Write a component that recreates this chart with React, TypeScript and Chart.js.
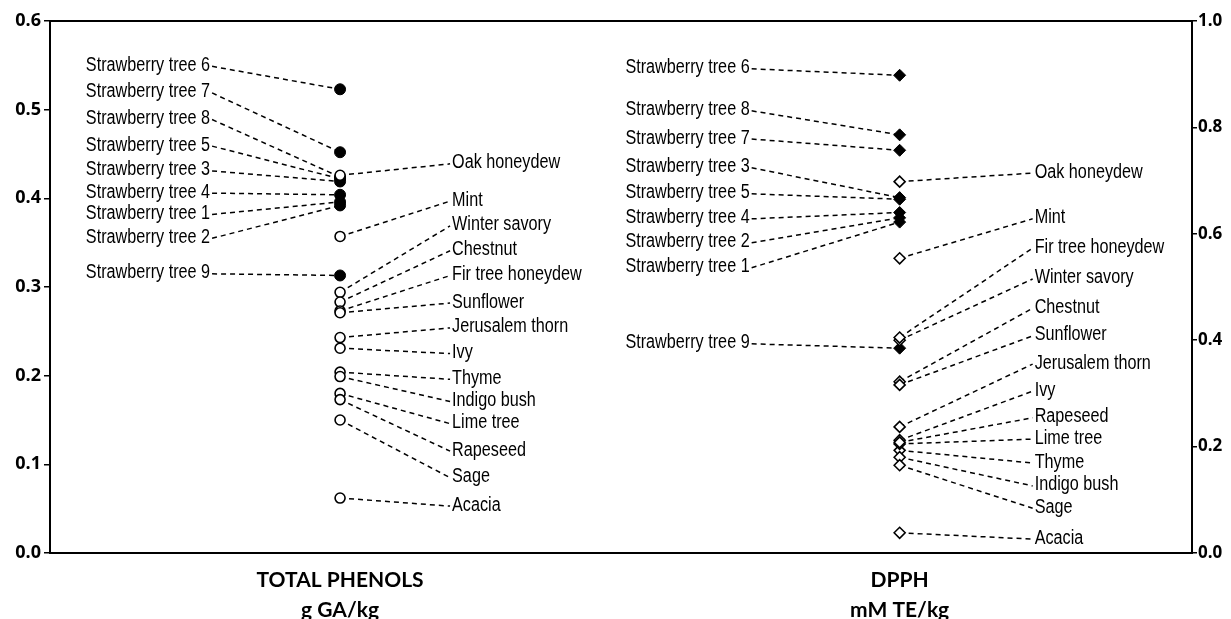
import React, { useEffect, useRef } from 'react';
import { Chart, registerables } from 'chart.js';

Chart.register(...registerables);

// ---------- data ----------
const strawberryNames = [
  'Strawberry tree 1', 'Strawberry tree 2', 'Strawberry tree 3', 'Strawberry tree 4',
  'Strawberry tree 5', 'Strawberry tree 6', 'Strawberry tree 7', 'Strawberry tree 8',
  'Strawberry tree 9',
];
// total phenols, g GA/kg
const strawberryPhenols = [0.396, 0.392, 0.419, 0.404, 0.422, 0.523, 0.452, 0.424, 0.313];
// DPPH, mM TE/kg
const strawberryDPPH = [0.622, 0.630, 0.668, 0.640, 0.665, 0.898, 0.757, 0.786, 0.385];

const honeyNames = [
  'Oak honeydew', 'Mint', 'Winter savory', 'Chestnut', 'Fir tree honeydew', 'Sunflower',
  'Jerusalem thorn', 'Ivy', 'Thyme', 'Indigo bush', 'Lime tree', 'Rapeseed', 'Sage', 'Acacia',
];
const honeyPhenols = [0.426, 0.357, 0.294, 0.283, 0.273, 0.271, 0.243, 0.231, 0.204, 0.199, 0.180, 0.173, 0.150, 0.062];
const honeyDPPH = [0.698, 0.554, 0.400, 0.322, 0.405, 0.316, 0.237, 0.212, 0.193, 0.180, 0.205, 0.208, 0.165, 0.038];

// label anchor levels (in each axis' own units)
const strawberryPhenolLabelAt = [0.383, 0.356, 0.432, 0.407, 0.460, 0.550, 0.520, 0.490, 0.316];
const strawberryDPPHLabelAt = [0.538, 0.585, 0.726, 0.630, 0.677, 0.912, 0.780, 0.833, 0.395];
const honeyPhenolLabelAt = [0.440, 0.398, 0.370, 0.342, 0.314, 0.283, 0.255, 0.226, 0.197, 0.172, 0.147, 0.116, 0.086, 0.054];
const honeyDPPHLabelAt = [0.716, 0.630, 0.517, 0.462, 0.575, 0.410, 0.357, 0.306, 0.171, 0.128, 0.216, 0.256, 0.086, 0.028];

const phenolTicks = [0, 0.1, 0.2, 0.3, 0.4, 0.5, 0.6];
const dpphTicks = [0, 0.2, 0.4, 0.6, 0.8, 1.0];
const columnTitles = [['TOTAL PHENOLS', 'g GA/kg'], ['DPPH', 'mM TE/kg']];

// ---------- layout ----------
const PHENOL_X = 0.254;
const DPPH_X = 0.744;
const LABEL_FONT = "20px 'Liberation Sans', Arial, sans-serif";
const NARROW = 0.81;
const AXIS_FONT = { family: "'Open Sans', Lato, sans-serif", size: 17, weight: 'bold' as const };

export default function App() {
  const ref = useRef<HTMLCanvasElement>(null);

  useEffect(() => {
    document.body.style.margin = '0';
    document.body.style.overflow = 'hidden';
    const canvas = ref.current;
    if (!canvas) return;

    const leaders = {
      id: 'leaders',
      beforeDatasetsDraw(chart: any) {
        const { ctx, scales } = chart;
        const xs = scales.x, y = scales.y, y2 = scales.y2;
        const px = xs.getPixelForValue(PHENOL_X);
        const dx = xs.getPixelForValue(DPPH_X);
        ctx.save();
        ctx.strokeStyle = '#000';
        ctx.lineWidth = 1.5;
        ctx.setLineDash([5, 4]);
        const line = (x1: number, y1: number, x2: number, y2v: number) => {
          ctx.beginPath();
          ctx.moveTo(x1, y1);
          ctx.lineTo(x2, y2v);
          ctx.stroke();
        };
        strawberryPhenols.forEach((v, i) => {
          line(px - 128, y.getPixelForValue(strawberryPhenolLabelAt[i]) + 1, px, y.getPixelForValue(v));
        });
        honeyPhenols.forEach((v, i) => {
          line(px, y.getPixelForValue(v), px + 110, y.getPixelForValue(honeyPhenolLabelAt[i]) + 1);
        });
        strawberryDPPH.forEach((v, i) => {
          line(dx - 148, y2.getPixelForValue(strawberryDPPHLabelAt[i]) + 1, dx, y2.getPixelForValue(v));
        });
        honeyDPPH.forEach((v, i) => {
          line(dx, y2.getPixelForValue(v), dx + 133, y2.getPixelForValue(honeyDPPHLabelAt[i]) + 1);
        });
        ctx.restore();
      },
      afterDraw(chart: any) {
        const { ctx, scales, chartArea } = chart;
        const xs = scales.x, y = scales.y, y2 = scales.y2;
        const px = xs.getPixelForValue(PHENOL_X);
        const dx = xs.getPixelForValue(DPPH_X);
        const text = (s: string, x: number, yy: number, align: CanvasTextAlign) => {
          ctx.save();
          ctx.translate(x, yy);
          ctx.scale(NARROW, 1);
          ctx.textAlign = align;
          ctx.fillText(s, 0, 0);
          ctx.restore();
        };
        ctx.save();
        ctx.fillStyle = '#000';
        ctx.font = LABEL_FONT;
        ctx.textBaseline = 'middle';
        strawberryNames.forEach((n, i) => {
          text(n, px - 130, y.getPixelForValue(strawberryPhenolLabelAt[i]), 'right');
          text(n, dx - 150, y2.getPixelForValue(strawberryDPPHLabelAt[i]), 'right');
        });
        honeyNames.forEach((n, i) => {
          text(n, px + 112, y.getPixelForValue(honeyPhenolLabelAt[i]), 'left');
          text(n, dx + 135, y2.getPixelForValue(honeyDPPHLabelAt[i]), 'left');
        });
        // frame
        ctx.strokeStyle = '#000';
        ctx.lineWidth = 2;
        ctx.setLineDash([]);
        ctx.strokeRect(chartArea.left, chartArea.top, chartArea.right - chartArea.left, chartArea.bottom - chartArea.top);
        ctx.restore();
      },
    };

    const chart = new Chart(canvas, {
      type: 'scatter',
      data: {
        datasets: [
          {
            label: 'Honey – total phenols',
            yAxisID: 'y',
            data: honeyPhenols.map((v) => ({ x: PHENOL_X, y: v })),
            pointStyle: 'circle',
            pointRadius: 5,
            pointBorderWidth: 1.6,
            backgroundColor: '#fff',
            borderColor: '#000',
          },
          {
            label: 'Honey – DPPH',
            yAxisID: 'y2',
            data: honeyDPPH.map((v) => ({ x: DPPH_X, y: v })),
            pointStyle: 'rectRot',
            pointRadius: 5.5,
            pointBorderWidth: 1.6,
            backgroundColor: '#fff',
            borderColor: '#000',
          },
          {
            label: 'Strawberry tree – total phenols',
            yAxisID: 'y',
            data: strawberryPhenols.map((v) => ({ x: PHENOL_X, y: v })),
            pointStyle: 'circle',
            pointRadius: 5.5,
            pointBorderWidth: 1,
            backgroundColor: '#000',
            borderColor: '#000',
          },
          {
            label: 'Strawberry tree – DPPH',
            yAxisID: 'y2',
            data: strawberryDPPH.map((v) => ({ x: DPPH_X, y: v })),
            pointStyle: 'rectRot',
            pointRadius: 6,
            pointBorderWidth: 1,
            backgroundColor: '#000',
            borderColor: '#000',
          },
        ],
      },
      options: {
        animation: false,
        responsive: true,
        maintainAspectRatio: false,
        layout: { padding: { top: 21, left: 0, right: 0, bottom: 0 } },
        plugins: { legend: { display: false }, tooltip: { enabled: false } },
        scales: {
          x: {
            type: 'linear',
            min: 0,
            max: 1,
            position: 'bottom',
            grid: { display: false },
            border: { display: false },
            afterBuildTicks: (s: any) => {
              s.ticks = [{ value: PHENOL_X }, { value: DPPH_X }];
            },
            afterFit: (s: any) => {
              s.height = 66;
            },
            ticks: {
              autoSkip: false,
              maxRotation: 0,
              padding: 5,
              color: '#000',
              font: { family: "Lato, 'Open Sans', sans-serif", size: 21, weight: 'bold', lineHeight: 1.4 },
              callback: (v: any) => (Math.abs(v - PHENOL_X) < 1e-6 ? columnTitles[0] : columnTitles[1]),
            },
          },
          y: {
            type: 'linear',
            position: 'left',
            min: 0,
            max: 0.6,
            afterBuildTicks: (s: any) => {
              s.ticks = phenolTicks.map((value) => ({ value }));
            },
            afterFit: (s: any) => {
              s.width = 50;
            },
            grid: { display: true, drawOnChartArea: false, drawTicks: true, tickLength: 6, color: '#000', lineWidth: 1.5 },
            border: { display: false },
            ticks: {
              padding: 3,
              color: '#000',
              font: { ...AXIS_FONT, size: 18 },
              callback: (v: any) => Number(v).toFixed(1),
            },
          },
          y2: {
            type: 'linear',
            position: 'right',
            min: 0,
            max: 1,
            afterBuildTicks: (s: any) => {
              s.ticks = dpphTicks.map((value) => ({ value }));
            },
            afterFit: (s: any) => {
              s.width = 39;
            },
            grid: { display: true, drawOnChartArea: false, drawTicks: true, tickLength: 5, color: '#000', lineWidth: 1.5 },
            border: { display: false },
            ticks: {
              padding: 1,
              color: '#000',
              font: AXIS_FONT,
              callback: (v: any) => Number(v).toFixed(1),
            },
          },
        },
      },
      plugins: [leaders],
    });

    return () => chart.destroy();
  }, []);

  return (
    <div style={{ width: 1231, height: 619, position: 'relative' }}>
      <canvas ref={ref} />
    </div>
  );
}
